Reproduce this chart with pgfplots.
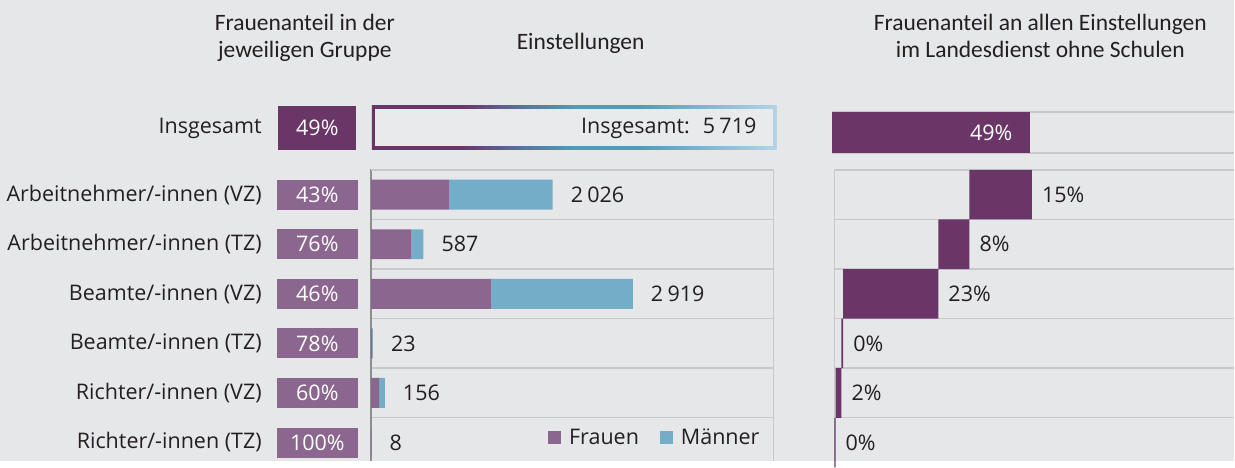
\documentclass[border=0pt]{standalone}
\usepackage{pgfplots}
\pgfplotsset{compat=1.18}
\usepackage{fontspec}
\setmainfont{Open Sans}
\newfontfamily\titlefont{Carlito}
\definecolor{bg}{HTML}{E6E7E9}
\definecolor{dpurple}{HTML}{693667}
\definecolor{frauen}{HTML}{8B6790}
\definecolor{maenner}{HTML}{73ADC8}
\definecolor{gridc}{HTML}{C8C9CC}
\definecolor{axisc}{HTML}{8E8E90}
\definecolor{txt}{HTML}{231F20}
\definecolor{midblue}{HTML}{5A6F9A}
\definecolor{tealc}{HTML}{4E9CB9}
\definecolor{lblue}{HTML}{B5D3E7}
\definecolor{innerc}{HTML}{E9EAEC}
\newcommand\lab{\fontsize{21.5}{26}\selectfont}
\newcommand\ttl{\titlefont\fontsize{23.5}{27}\selectfont}
\pgfdeclarehorizontalshading{insg}{100bp}{color(0bp)=(dpurple); color(25bp)=(dpurple); color(36bp)=(dpurple); color(43bp)=(midblue); color(50bp)=(tealc); color(58bp)=(tealc); color(75bp)=(lblue); color(100bp)=(lblue)}
\pgfplotsset{
  panel/.style={anchor=north west, scale only axis, clip=false,
    /pgf/number format/assume math mode=true},
  rows/.style={height=291pt, ymin=0.5, ymax=6.367, y dir=reverse},
}
\begin{document}
\begin{tikzpicture}[x=1pt,y=1pt]
\fill[bg] (0pt,0pt) rectangle (1235pt,-461pt);
% titles
\node[anchor=base, text=txt, font=\ttl, inner sep=0pt] at (305pt,-31pt) {Frauenanteil in der};
\node[anchor=base, text=txt, font=\ttl, inner sep=0pt] at (305pt,-58pt) {jeweiligen Gruppe};
\node[anchor=base, text=txt, font=\ttl, inner sep=0pt] at (581pt,-50pt) {Einstellungen};
\node[anchor=base, text=txt, font=\ttl, inner sep=0pt] at (1041pt,-31pt) {Frauenanteil an allen Einstellungen};
\node[anchor=base, text=txt, font=\ttl, inner sep=0pt] at (1041pt,-58pt) {im Landesdienst ohne Schulen};
% Insgesamt frame
\shade[shading=insg] (372pt,-106pt) rectangle (777pt,-150pt);
\fill[innerc] (375.5pt,-109.5pt) rectangle (773.5pt,-146.5pt);

% left: labels and percentage boxes
\begin{axis}[panel, at={(277pt,-103.04pt)},
  width=81pt, height=357.96pt, xmin=0, xmax=1, ymin=-0.85, ymax=6.367,
  y dir=reverse, axis line style={draw=none}, xtick=\empty,
  ytick={-0.347,1,2,3,4,5,6},
  yticklabels={Insgesamt,Arbeitnehmer/-innen (VZ),Arbeitnehmer/-innen (TZ),Beamte/-innen (VZ),Beamte/-innen (TZ),Richter/-innen (VZ),Richter/-innen (TZ)},
  major tick length=0pt,
  yticklabel style={font=\lab, text=txt, inner sep=0pt, xshift=-15pt}]
\addplot[draw=none, mark=none, point meta=explicit,
  nodes near coords={\pgfmathprintnumber{\pgfplotspointmeta}\%},
  every node near coord/.append style={anchor=center, fill=frauen, text=white, font=\lab, inner sep=0pt, minimum width=81pt, minimum height=30pt}]
  coordinates {(0.5,1)[43] (0.5,2)[76] (0.5,3)[46] (0.5,4)[78] (0.5,5)[60] (0.5,6)[100]};
\addplot[draw=none, mark=none, point meta=explicit,
  nodes near coords={\pgfmathprintnumber{\pgfplotspointmeta}\%},
  every node near coord/.append style={anchor=center, fill=dpurple, text=white, font=\lab, inner sep=0pt, minimum width=78pt, minimum height=44pt}]
  coordinates {(0.5,-0.347)[49]};
\end{axis}

% middle top: Insgesamt total
\begin{axis}[panel, at={(372pt,-106pt)},
  width=405pt, height=44pt, xmin=0, xmax=1, ymin=0, ymax=1, hide axis]
\addplot[draw=none, mark=none, point meta=explicit,
  nodes near coords={Insgesamt:\hspace{13pt}\pgfmathprintnumber[1000 sep={\hspace{0.2em}}]{\pgfplotspointmeta}},
  every node near coord/.append style={anchor=east, inner sep=0pt, font=\lab, text=txt}]
  coordinates {(0.9506,0.5)[5719]};
\end{axis}

% middle: stacked bars
\begin{axis}[panel, rows, at={(371pt,-170pt)},
  width=403pt, xbar stacked, bar width=30pt, xmin=0, xmax=4487,
  axis line style={draw=none}, xtick=\empty, ytick=\empty,
  extra y ticks={1.5,2.5,3.5,4.5,5.5}, extra y tick labels={},
  extra y tick style={grid=major, major tick length=0pt},
  major grid style={gridc, line width=1.5pt},
  legend image code/.code={\fill[#1] (0pt,-6.5pt) rectangle (13pt,6.5pt);},
  legend style={at={(0.978,0.079)}, anchor=east, draw=none, fill=none,
    legend columns=2, font=\lab, text=txt,
    /tikz/every odd column/.append style={column sep=6pt},
    /tikz/every even column/.append style={column sep=19pt}}]
\addplot[fill=frauen, draw=none] coordinates {(871,1) (446,2) (1343,3) (18,4) (94,5) (8,6)};
\addplot[fill=maenner, draw=none] coordinates {(1155,1) (141,2) (1576,3) (5,4) (62,5) (0,6)};
\legend{Frauen,Männer}
\draw[gridc, line width=1.5pt] (axis cs:0,0.5) -- (axis cs:4487,0.5) -- (axis cs:4487,6.367);
\draw[axisc, line width=2pt] (axis cs:0,0.48) -- (axis cs:0,6.367);
\end{axis}
% middle: totals
\begin{axis}[panel, rows, at={(371pt,-170pt)}, width=403pt, xmin=0, xmax=4487, hide axis]
\addplot[draw=none, mark=none, point meta=explicit,
  nodes near coords={\pgfmathprintnumber[1000 sep={\hspace{0.2em}}]{\pgfplotspointmeta}},
  every node near coord/.append style={anchor=west, inner sep=0pt, xshift=18pt, font=\lab, text=txt}]
  coordinates {(2026,1)[2026] (587,2)[587] (2919,3)[2919] (23,4)[23] (156,5)[156] (8,6)[8]};
\end{axis}

% right top: Insgesamt share
\begin{axis}[panel, at={(833pt,-112pt)},
  width=402pt, height=41pt, xbar, bar width=41pt,
  xmin=0, xmax=99.5, ymin=0.5, ymax=1.5, hide axis]
\draw[gridc, line width=1.5pt] (axis cs:0,0.5) -- (axis cs:99.5,0.5);
\draw[gridc, line width=1.5pt] (axis cs:0,1.5) -- (axis cs:99.5,1.5);
\addplot[fill=dpurple, draw=none, point meta=explicit,
  nodes near coords={\pgfmathprintnumber{\pgfplotspointmeta}\%},
  every node near coord/.append style={anchor=east, inner sep=0pt, xshift=-17pt, font=\lab, text=white}]
  coordinates {(48.8,1)[49]};
\end{axis}

% right: waterfall
\begin{axis}[panel, rows, at={(835pt,-170pt)},
  width=400pt, xbar stacked, bar width=49.6pt, xmin=0, xmax=99,
  axis line style={draw=none}, xtick=\empty, ytick=\empty,
  extra y ticks={1.5,2.5,3.5,4.5,5.5}, extra y tick labels={},
  extra y tick style={grid=major, major tick length=0pt},
  major grid style={gridc, line width=1.5pt}]
\addplot[draw=none, fill=none] coordinates {(33.4,1) (25.7,2) (2.15,3) (1.73,4) (0.25,5) (0,6)};
\addplot[fill=dpurple, draw=none] coordinates {(15.5,1) (7.7,2) (23.55,3) (0.42,4) (1.48,5) (0.25,6)};
\draw[gridc, line width=1.5pt] (axis cs:0,6.367) -- (axis cs:0,0.5) -- (axis cs:99,0.5);
\end{axis}
% right: share labels
\begin{axis}[panel, rows, at={(835pt,-170pt)}, width=400pt, xmin=0, xmax=99, hide axis]
\addplot[draw=none, mark=none, point meta=explicit,
  nodes near coords={\pgfmathprintnumber{\pgfplotspointmeta}\%},
  every node near coord/.append style={anchor=west, inner sep=0pt, xshift=10pt, font=\lab, text=txt}]
  coordinates {(48.9,1)[15] (33.4,2)[8] (25.7,3)[23] (2.15,4)[0] (1.73,5)[2] (0.25,6)[0]};
\end{axis}
\end{tikzpicture}
\end{document}
